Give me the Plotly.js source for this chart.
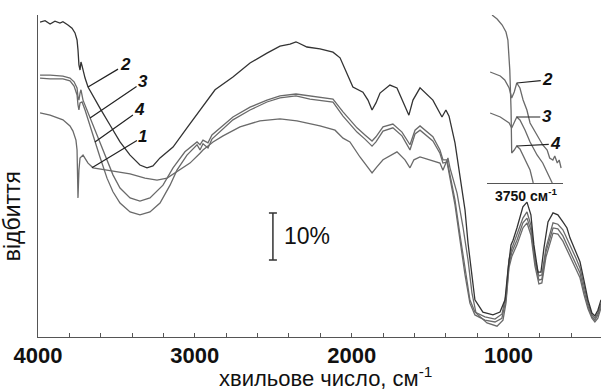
<!DOCTYPE html>
<html>
<head>
<meta charset="utf-8">
<script src="https://cdn.plot.ly/plotly-3.0.1.min.js"></script>
<style>html,body{margin:0;padding:0;background:#fff;}#chart{width:601px;height:392px;}</style>
</head>
<body>
<div id="chart"></div>
<script>
// ---- Main spectra: wavenumber (cm-1) and reflectance (%) ----
const curve2Wn = [3987,3955,3923,3892,3860,3841,3809,3783,3764,3751,3745,3739,3732,3726,3719,3700,3681,3637,3605,3541,3477,3413,3350,3305,3267,3222,3139,3050,2967,2871,2757,2648,2540,2457,2393,2355,2342,2285,2202,2119,2074,2030,1992,1928,1896,1870,1845,1819,1756,1711,1666,1635,1609,1564,1482,1424,1399,1379,1341,1309,1277,1258,1233,1214,1163,1099,1054,1022,1003,984,971,946,908,882,857,838,812,793,774,748,716,685,653,627,608,570,544,519,493,468,449,430,410];
const curve2R  = [67.0,67.3,66.6,67.2,66.8,67.1,66.4,65.7,64.7,63.2,61.1,57.9,56.8,58.5,57.7,55.1,53.2,50.4,48.7,45.1,41.5,38.7,36.6,36.0,36.4,38.1,40.4,44.5,48.3,52.6,55.3,58.3,60.4,61.9,62.3,62.8,62.6,61.7,61.3,60.6,59.4,56.2,53.2,52.1,50.4,48.3,49.8,51.9,53.6,53.0,49.4,47.2,50.4,53.0,50.4,46.8,48.3,47.0,41.3,34.0,27.0,20.0,12.8,7.9,5.3,4.7,5.3,7.9,14.3,19.6,20.6,23.2,27.7,28.7,26.0,19.6,13.8,13.8,18.9,24.5,26.4,26.0,24.5,23.2,21.1,18.1,16.0,12.1,7.9,5.1,4.5,5.7,7.9];

const curve3Wn = [3987,3923,3841,3796,3770,3751,3745,3739,3732,3726,3713,3688,3649,3605,3560,3522,3477,3413,3350,3286,3203,3139,3063,2986,2967,2948,2916,2891,2757,2648,2540,2457,2355,2266,2119,2055,1966,1915,1870,1845,1800,1737,1679,1628,1596,1564,1482,1437,1418,1392,1373,1341,1309,1277,1246,1214,1150,1086,1041,1016,997,978,946,908,882,857,831,806,787,761,716,685,653,621,595,570,544,519,493,468,449,430,410];
const curve3R  = [55.7,55.7,55.5,55.1,54.3,53.0,51.1,50.4,51.9,52.6,50.4,48.3,45.1,41.5,37.7,34.5,31.7,29.6,28.9,29.6,32.3,36.0,39.4,41.5,40.9,41.9,41.3,43.0,46.8,48.9,50.4,51.3,51.7,51.3,50.6,47.9,44.5,43.0,41.7,42.6,44.7,45.3,43.6,40.9,44.0,44.9,42.6,39.8,37.7,37.7,34.5,29.1,21.7,14.3,7.9,5.3,4.3,3.8,4.9,8.9,16.4,18.9,21.7,25.3,26.6,23.8,16.8,13.0,13.2,18.9,24.3,24.0,22.8,20.6,18.5,16.8,14.7,11.1,7.2,4.7,4.0,5.1,7.2];

const curve4Wn = [3987,3923,3841,3796,3770,3751,3745,3739,3732,3719,3700,3668,3637,3605,3560,3522,3477,3413,3350,3286,3222,3158,3114,3050,2986,2967,2948,2916,2891,2757,2648,2540,2457,2355,2266,2119,2055,1966,1915,1870,1845,1800,1737,1679,1628,1596,1564,1482,1437,1418,1392,1373,1341,1309,1277,1246,1214,1150,1086,1042,1016,997,978,946,908,882,857,831,806,787,761,716,685,653,621,595,570,544,519,493,468,449,430,410];
const curve4R  = [55.1,54.9,54.9,54.5,53.4,51.5,49.4,48.3,49.8,50.0,48.3,45.1,41.5,38.3,33.8,30.9,28.5,26.6,26.0,26.6,28.5,32.3,35.5,38.7,40.9,39.8,41.1,40.2,42.1,46.2,48.3,50.0,50.9,51.3,50.6,50.0,47.0,43.6,42.1,40.6,41.5,43.8,44.5,42.8,39.8,43.2,44.0,41.7,39.1,37.0,37.2,33.8,28.1,20.6,13.2,7.2,4.7,3.6,3.2,4.0,7.9,15.3,18.1,20.6,24.3,25.3,22.8,16.0,12.1,12.3,18.1,23.2,23.0,21.5,19.1,17.2,15.5,13.6,10.0,6.6,4.3,3.6,4.7,6.8];

const curve1Wn = [3987,3923,3841,3796,3777,3758,3751,3745,3739,3732,3713,3681,3649,3522,3413,3318,3241,3177,3095,3031,2967,2948,2884,2820,2712,2585,2457,2349,2202,2106,2055,2011,1947,1903,1870,1839,1800,1711,1660,1628,1603,1564,1482,1437,1418,1399,1386,1373,1328,1290,1258,1233,1207,1137,1073,1035,1016,997,978,946,908,882,857,831,806,787,761,716,685,653,621,595,570,544,519,493,468,449,430,410];
const curve1R  = [47.7,47.2,46.2,44.9,43.8,41.9,39.8,29.6,35.5,38.1,38.7,37.0,36.0,35.3,34.7,33.8,33.4,33.8,35.5,37.0,39.1,39.8,41.5,42.8,44.7,46.0,46.4,46.0,44.9,44.0,42.3,41.5,38.3,36.4,34.9,36.2,37.7,39.4,37.7,36.0,37.7,38.3,37.4,37.0,35.5,37.0,38.1,36.0,30.6,23.4,16.4,9.4,5.1,3.0,2.3,3.6,7.2,14.7,17.2,19.6,23.2,24.3,21.7,15.1,11.3,11.5,17.0,22.1,21.9,20.4,18.1,16.0,14.3,12.6,9.1,6.0,4.0,3.2,4.0,6.2];

// ---- Inset around 3750 cm-1 (relative units) ----
const inset2Wn = [3785,3777,3769,3762,3755,3751,3747,3743,3738,3733,3727,3722,3711,3702,3695,3691,3686,3683,3679,3676,3673];
const inset2R  = [111,109,107,103,95,85,91,100,95,83,73,60,48,38,33,25,23,27,20,23,15];
const inset3Wn = [3785,3777,3769,3762,3755,3751,3747,3743,3738,3730,3722,3711,3702,3694,3687];
const inset3R  = [70,68,66,63,60,55,60,66,63,53,41,28,20,10,0];
const inset4Wn = [3782,3774,3766,3760,3757,3754,3752,3751,3747,3743,3738,3732,3727,3722,3717];
const inset4R  = [168,164,158,151,143,113,73,30,33,37,34,26,21,13,0];

// ---- Scale bar (10 %) ----
const scaleX = [2502];
const scaleY = [21.4];
const scaleHalf = [5];

// ---- Labels ----
const curveLabels = ['2','3','4','1'];
const labelWn = [3681,3668,3637,3656];
const labelR  = [53.2,46.6,41.5,36.0];
const insetLabels = ['2','3','4'];
const insetLabelWn = [3743,3743,3743];
const insetLabelR  = [100,66,37];

const xTickVals = [4000,3000,2000,1000];
const xTickText = ['4000','3000','2000','1000'];

const dark = '#333333', mid = '#6a6a6a';
function line(x,y,color,xa,ya){
  return {x:x,y:y,type:'scatter',mode:'lines',line:{color:color,width:1.3},xaxis:xa,yaxis:ya,hoverinfo:'skip',showlegend:false};
}
const traces = [
  line(curve1Wn,curve1R,mid,'x','y'),
  line(curve4Wn,curve4R,mid,'x','y'),
  line(curve3Wn,curve3R,mid,'x','y'),
  line(curve2Wn,curve2R,dark,'x','y'),
  line(inset2Wn,inset2R,mid,'x2','y2'),
  line(inset3Wn,inset3R,mid,'x2','y2'),
  line(inset4Wn,inset4R,mid,'x2','y2'),
  {x:scaleX,y:scaleY,type:'scatter',mode:'markers',marker:{size:1,color:'rgba(0,0,0,0)'},
   error_y:{type:'data',symmetric:true,array:scaleHalf,width:4,thickness:1.5,color:'#333'},
   hoverinfo:'skip',showlegend:false}
];

const lblFont = {family:'Liberation Sans, Arial',size:17,color:'#111',weight:700,style:'italic'};
const annotations = [];
const axy = [[37,-22],[53,-36],[45,-32],[51,-31]];
curveLabels.forEach((t,i)=>{
  annotations.push({x:labelWn[i],y:labelR[i],xref:'x',yref:'y',text:t,showarrow:true,arrowhead:0,arrowwidth:1.2,arrowcolor:'#222',
    ax:axy[i][0],ay:axy[i][1],font:lblFont});
});
const iaxy = [[31,-3],[30,0],[39,-2]];
insetLabels.forEach((t,i)=>{
  annotations.push({x:insetLabelWn[i],y:insetLabelR[i],xref:'x2',yref:'y2',text:t,showarrow:true,arrowhead:0,arrowwidth:1.2,arrowcolor:'#222',
    ax:iaxy[i][0],ay:iaxy[i][1],font:lblFont});
});
annotations.push({x:3728,y:0,xref:'x2',yref:'y2',yanchor:'top',yshift:-1,showarrow:false,text:'3750 см<sup>-1</sup>',
  font:{family:'Liberation Sans, Arial',size:14,color:'#111',weight:700}});
annotations.push({x:2444,y:21.4,xref:'x',yref:'y',xanchor:'left',yanchor:'middle',showarrow:false,text:'10%',
  font:{family:'Liberation Sans, Arial',size:23,color:'#111'}});
// axis titles, placed where the reference has them
annotations.push({x:0,y:0.375,xref:'paper',yref:'paper',xanchor:'right',yanchor:'middle',xshift:-11,textangle:-90,
  showarrow:false,text:'відбиття',font:{family:'Liberation Sans, Arial',size:23,color:'#111'}});
annotations.push({x:0.5115,y:0,xref:'paper',yref:'paper',xanchor:'center',yanchor:'bottom',yshift:-56,
  showarrow:false,text:'хвильове число, см<sup>-1</sup>',font:{family:'Liberation Sans, Arial',size:22,color:'#111'}});

const layout = {
  width:601,height:392,
  margin:{l:38,r:0,t:15,b:55},
  paper_bgcolor:'#fff',plot_bgcolor:'#fff',
  showlegend:false,
  xaxis:{range:[4000,410],showgrid:false,zeroline:false,showline:true,linecolor:'#555',linewidth:1.2,
    tickmode:'array',tickvals:xTickVals,ticktext:xTickText,ticks:'inside',ticklen:4,tickcolor:'#555',
    minor:{dtick:200,tick0:0,ticks:'inside',ticklen:4,tickcolor:'#555'},
    tickfont:{family:'Liberation Sans, Arial',size:22,color:'#111',weight:700},
    ticklabelstandoff:-2,
    automargin:false},
  yaxis:{range:[0,68.51],showgrid:false,zeroline:false,showline:true,linecolor:'#555',linewidth:1.2,
    showticklabels:false,ticks:'',automargin:false},
  xaxis2:{domain:[0.7975,0.9325],anchor:'y2',range:[3790,3670],showgrid:false,zeroline:false,showline:true,
    linecolor:'#555',linewidth:1.2,showticklabels:false,ticks:''},
  yaxis2:{domain:[0.4783,1],anchor:'x2',range:[0,168],showgrid:false,zeroline:false,showline:false,
    showticklabels:false,ticks:''},
  annotations:annotations
};
Plotly.newPlot('chart',traces,layout,{staticPlot:true,displayModeBar:false});
</script>
</body>
</html>
